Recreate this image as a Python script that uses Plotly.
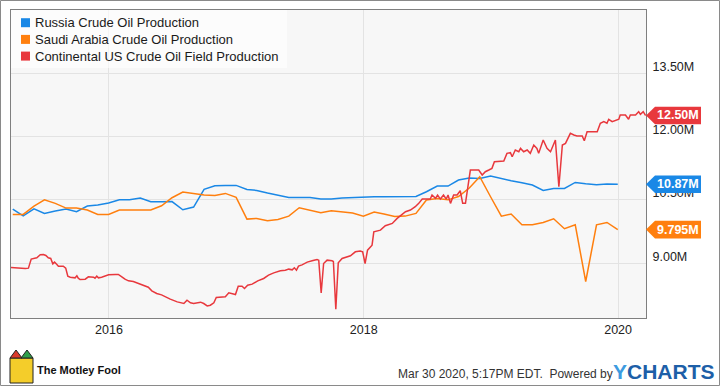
import pandas as pd
import plotly.graph_objects as go

# ---------------- data ----------------
# monthly series, month-end dates Mar 2015 .. Dec 2019
month_dates = pd.date_range("2015-04-01", periods=58, freq="MS") - pd.Timedelta(days=1)

russia = [10.281, 10.123, 10.289, 10.179, 10.234, 10.281, 10.218, 10.353, 10.376, 10.424,
          10.503, 10.503, 10.542, 10.455, 10.455, 10.460, 10.266, 10.329, 10.748, 10.835, 10.843, 10.843,
          10.748, 10.724, 10.661, 10.614, 10.558, 10.558, 10.558, 10.519, 10.519, 10.542, 10.558, 10.574,
          10.574, 10.574, 10.582, 10.582, 10.582, 10.693, 10.827, 10.827, 10.970, 11.017, 11.009, 11.065,
          11.001, 10.954, 10.906, 10.851, 10.724, 10.772, 10.772, 10.914, 10.883, 10.859, 10.875, 10.870]

saudi = [10.155, 10.155, 10.353, 10.503, 10.416, 10.305, 10.305, 10.258, 10.155, 10.155,
         10.258, 10.258, 10.258, 10.258, 10.360, 10.550, 10.685, 10.645, 10.614, 10.606, 10.653, 10.558,
         10.044, 10.060, 10.005, 10.036, 10.115, 10.313, 10.250, 10.194, 10.242, 10.218, 10.190, 10.115,
         10.214, 10.163, 10.107, 10.115, 10.179, 10.495, 10.530, 10.500, 10.580, 10.780, 11.050, 10.574,
         10.115, 10.163, 9.910, 9.910, 9.965, 10.052, 9.815, 9.910, 8.565, 9.910, 9.965, 9.795]

# weekly series (vertices)
us_dates = [
    "2015-03-26", "2015-04-16", "2015-05-06", "2015-05-15", "2015-05-23", "2015-06-08", "2015-06-18",
    "2015-06-27", "2015-07-04", "2015-07-11", "2015-07-18", "2015-07-24", "2015-07-29", "2015-08-04",
    "2015-08-09", "2015-08-23", "2015-08-30", "2015-09-05", "2015-09-12", "2015-09-26", "2015-10-01",
    "2015-10-05", "2015-10-10", "2015-10-25", "2015-11-03", "2015-11-18", "2015-11-22", "2015-11-27",
    "2015-12-02", "2015-12-11", "2015-12-21", "2015-12-31", "2016-01-19", "2016-01-28", "2016-02-07",
    "2016-02-16", "2016-02-26", "2016-03-11", "2016-03-26", "2016-04-14", "2016-04-23", "2016-05-03",
    "2016-05-17", "2016-05-31", "2016-06-10", "2016-06-25", "2016-07-15", "2016-08-03", "2016-08-12",
    "2016-08-22", "2016-08-31", "2016-09-20", "2016-09-29", "2016-10-09", "2016-10-18", "2016-10-28",
    "2016-11-04", "2016-11-30", "2016-12-10", "2016-12-19", "2016-12-29", "2017-01-06", "2017-01-17",
    "2017-01-24", "2017-02-02", "2017-02-15", "2017-03-03", "2017-03-20", "2017-04-03", "2017-04-18",
    "2017-05-07", "2017-05-21", "2017-05-31", "2017-06-10", "2017-06-16", "2017-06-22", "2017-06-28",
    "2017-07-08", "2017-07-23", "2017-08-06", "2017-08-20", "2017-08-25", "2017-09-01", "2017-09-08",
    "2017-09-18", "2017-10-02", "2017-10-06", "2017-10-13", "2017-10-20", "2017-10-31", "2017-11-24",
    "2017-12-08", "2017-12-22", "2017-12-29", "2018-01-05", "2018-01-12", "2018-01-25", "2018-01-30",
    "2018-02-18", "2018-03-04", "2018-03-24", "2018-04-07", "2018-05-01", "2018-05-15", "2018-05-29",
    "2018-06-08", "2018-06-18", "2018-07-11", "2018-07-16", "2018-07-26", "2018-08-01", "2018-08-09",
    "2018-08-18", "2018-08-26", "2018-08-31", "2018-09-07", "2018-09-16", "2018-09-26", "2018-10-05",
    "2018-10-12", "2018-10-20", "2018-11-03", "2018-11-27", "2018-12-07", "2018-12-16", "2018-12-26",
    "2019-01-04", "2019-01-11", "2019-02-07", "2019-02-16", "2019-02-26", "2019-03-03", "2019-03-12",
    "2019-03-22", "2019-03-27", "2019-04-05", "2019-04-15", "2019-04-24", "2019-05-04", "2019-05-13",
    "2019-05-18", "2019-05-31", "2019-06-11", "2019-06-21", "2019-07-05", "2019-07-15", "2019-07-25",
    "2019-08-03", "2019-08-17", "2019-08-27", "2019-09-05", "2019-09-20", "2019-09-26", "2019-10-04",
    "2019-11-02", "2019-11-11", "2019-11-21", "2019-11-30", "2019-12-05", "2019-12-15", "2020-01-03",
    "2020-01-07", "2020-01-22", "2020-01-31", "2020-02-05", "2020-02-20", "2020-02-29", "2020-03-05",
    "2020-03-13", "2020-03-20"]
us_values = [
    8.897, 8.881, 8.873, 8.881, 9.095, 9.127, 9.198,
    9.206, 9.182, 9.127, 9.111, 8.984, 9.024, 8.976,
    8.929, 8.929, 8.881, 8.692, 8.668, 8.652, 8.699,
    8.644, 8.613, 8.620, 8.676, 8.668, 8.644, 8.692,
    8.652, 8.668, 8.692, 8.723, 8.731, 8.731, 8.676,
    8.620, 8.581, 8.565, 8.518, 8.462, 8.430, 8.343,
    8.281, 8.249, 8.201, 8.146, 8.082, 8.043, 8.122,
    8.059, 8.043, 8.075, 8.043, 7.987, 8.003, 8.059,
    8.186, 8.201, 8.296, 8.281, 8.257, 8.454, 8.454,
    8.399, 8.478, 8.502, 8.581, 8.637, 8.715, 8.770,
    8.818, 8.834, 8.858, 8.842, 8.889, 8.834, 8.929,
    8.960, 9.024, 9.055, 9.087, 9.071, 8.296, 8.992,
    9.071, 9.055, 9.040, 7.908, 9.007, 9.111, 9.174,
    9.269, 9.290, 9.269, 8.992, 9.308, 9.427, 9.743,
    9.783, 9.886, 9.941, 10.060, 10.218, 10.258, 10.337,
    10.417, 10.519, 10.519, 10.614, 10.535, 10.614, 10.519,
    10.614, 10.519, 10.614, 10.417, 10.614, 10.614, 10.716,
    10.417, 10.417, 11.207, 11.207, 11.088, 11.167, 11.207,
    11.247, 11.404, 11.420, 11.602, 11.618, 11.522, 11.681,
    11.641, 11.720, 11.641, 11.681, 11.602, 11.800, 11.720,
    11.602, 11.919, 11.720, 11.641, 11.919, 10.811, 11.800,
    11.840, 12.077, 12.037, 12.014, 12.014, 11.902, 12.116,
    12.116, 12.315, 12.353, 12.315, 12.410, 12.353, 12.410,
    12.512, 12.512, 12.410, 12.512, 12.512, 12.590, 12.528,
    12.590, 12.500]

series_names = ["Russia Crude Oil Production",
                "Saudi Arabia Crude Oil Production",
                "Continental US Crude Oil Field Production"]
colors = ["#1a88e6", "#ff7f0e", "#e8383d"]

y_tick_vals = [9.0, 10.5, 12.0, 13.5]
y_tick_text = ["9.00M", "10.50M", "12.00M", "13.50M"]

footer_text = "Mar 30 2020, 5:17PM EDT.  Powered by"

# ---------------- layout geometry ----------------
W, H = 720, 386
ML, MR, MT, MB = 11, 74, 10, 68
PW, PH = W - ML - MR, H - MT - MB


def px(x):
    return (x - ML) / PW


def py(y):
    return (H - MB - y) / PH


def fmt(v):
    return f"{v:.2f}M" if v >= 10 else f"{v:.3f}M"


FONT = "Liberation Sans, Arial, sans-serif"

fig = go.Figure()
series = [(month_dates, russia), (month_dates, saudi), (pd.to_datetime(us_dates), us_values)]
for (xs, ys), name, c in zip(series, series_names, colors):
    fig.add_trace(go.Scatter(x=xs, y=ys, mode="lines", name=name, showlegend=False,
                             line=dict(color=c, width=1.5), hoverinfo="x+y"))

shapes = []
annotations = []

# outer frame
shapes.append(dict(type="rect", xref="paper", yref="paper", x0=px(0.5), x1=px(719.5),
                   y0=py(0.5), y1=py(385.5), line=dict(color="#8a8a8a", width=1), layer="above"))

# legend (manual)
shapes.append(dict(type="rect", xref="paper", yref="paper", x0=0, x1=px(287), y0=1, y1=py(68),
                   fillcolor="rgba(255,255,255,0.6)", line=dict(width=0), layer="above"))
row_y = [22.7, 39.4, 56.1]
for name, c, ry in zip(series_names, colors, row_y):
    shapes.append(dict(type="rect", xref="paper", yref="paper", xsizemode="pixel", ysizemode="pixel",
                       xanchor=px(25.5), yanchor=py(ry), x0=-4.5, x1=4.5, y0=-4.5, y1=4.5,
                       fillcolor=c, line=dict(width=0), layer="above"))
    annotations.append(dict(xref="paper", yref="paper", x=px(33), y=py(ry), xanchor="left",
                            yanchor="middle", text=name, showarrow=False,
                            font=dict(family=FONT, size=13, color="#1a1a1a")))

# last-value tags on the right
for (xs, ys), c in zip(series, colors):
    last = ys[-1]
    shapes.append(dict(type="path", xref="paper", yref="y", xsizemode="pixel", ysizemode="pixel",
                       xanchor=1, yanchor=last,
                       path="M0,0 L9,8.8 L55,8.8 L55,-8.8 L9,-8.8 Z",
                       fillcolor=c, line=dict(width=0), layer="above"))
    annotations.append(dict(xref="paper", yref="y", x=1, y=last, xanchor="left", yanchor="middle",
                            xshift=9, text=f"<b>{fmt(last)}</b>", showarrow=False,
                            font=dict(family=FONT, size=12.5, color="white")))

# footer
annotations.append(dict(xref="paper", yref="paper", x=px(615), y=py(374), xanchor="right",
                        yanchor="middle", text=footer_text, showarrow=False,
                        font=dict(family=FONT, size=12, color="#333333")))
annotations.append(dict(xref="paper", yref="paper", x=px(611), y=py(371), xanchor="left",
                        yanchor="middle",
                        text="<b><span style='color:#3d9be0'>Y</span>CHARTS</b>", showarrow=False,
                        font=dict(family=FONT, size=21, color="#1d5fa8")))
annotations.append(dict(xref="paper", yref="paper", x=px(35), y=py(370), xanchor="left",
                        yanchor="middle", text="<b>The Motley Fool</b>", showarrow=False,
                        font=dict(family=FONT, size=11, color="#111111")))
# jester logo (simplified)
shapes.append(dict(type="rect", xref="paper", yref="paper", x0=px(10), x1=px(33), y0=py(383),
                   y1=py(358), fillcolor="#f4cd2a", line=dict(color="#222", width=1), layer="above"))
shapes.append(dict(type="path", xref="paper", yref="paper", xsizemode="pixel", ysizemode="pixel",
                   xanchor=px(10), yanchor=py(358), path="M0,0 L6,8 L12,0 Z",
                   fillcolor="#d93a2b", line=dict(color="#222", width=1), layer="above"))
shapes.append(dict(type="path", xref="paper", yref="paper", xsizemode="pixel", ysizemode="pixel",
                   xanchor=px(21), yanchor=py(358), path="M0,0 L6,8 L12,0 Z",
                   fillcolor="#2f9e4a", line=dict(color="#222", width=1), layer="above"))

fig.update_layout(
    width=W, height=H,
    margin=dict(l=ML, r=MR, t=MT, b=MB, autoexpand=False),
    paper_bgcolor="white", plot_bgcolor="#f7f7f7",
    showlegend=False,
    font=dict(family=FONT, size=12.5, color="#222222"),
    shapes=shapes, annotations=annotations,
    xaxis=dict(type="date", range=["2015-03-26", "2020-03-21"], tick0="2016-01-01", dtick="M24",
               tickformat="%Y", showgrid=True, gridcolor="#e3e3e3", gridwidth=1,
               showline=True, linecolor="#7f7f7f", linewidth=1, mirror=True, ticks="",
               zeroline=False, tickfont=dict(size=12.5, color="#222222")),
    yaxis=dict(side="right", range=[7.7, 15.0], tickvals=y_tick_vals, ticktext=y_tick_text,
               showgrid=True, gridcolor="#e3e3e3", gridwidth=1, showline=True, linecolor="#7f7f7f",
               linewidth=1, mirror=True, ticks="", zeroline=False, ticklabelshift=-7,
               ticklabelstandoff=3, tickfont=dict(size=12.5, color="#222222")),
)

fig.write_html("out.html", config={"displayModeBar": False},
               post_script="document.body.style.margin='0';document.body.style.padding='0';")
